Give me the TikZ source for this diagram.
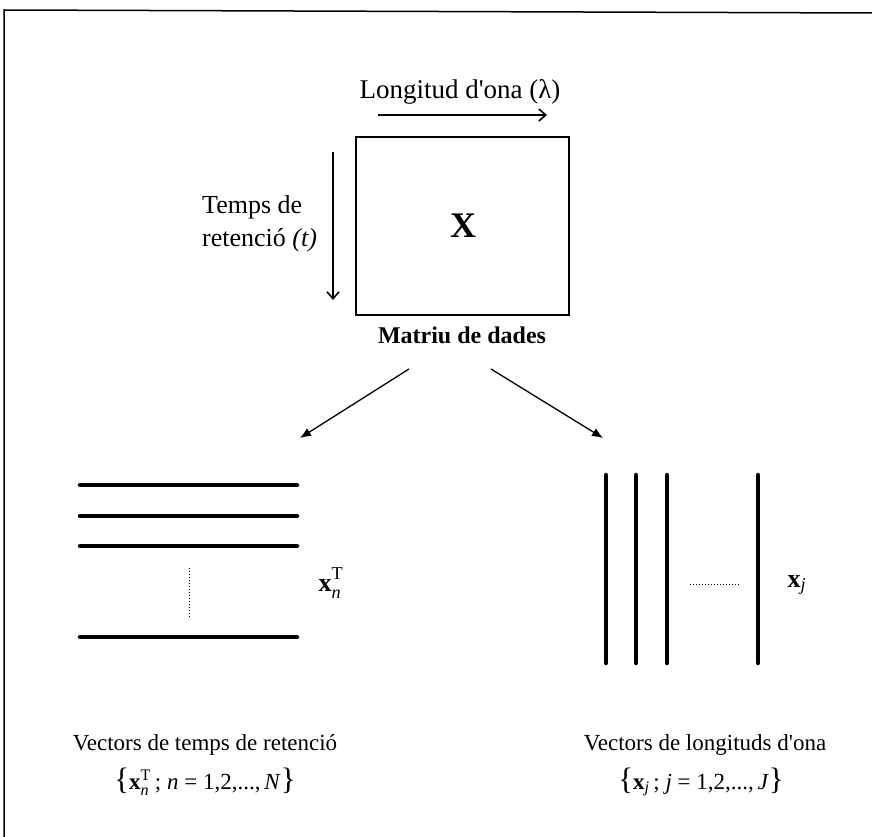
\documentclass[tikz,border=0pt]{standalone}
\usepackage{fontspec}
\setmainfont{Liberation Serif}[Ligatures=TeXOff]
\usetikzlibrary{arrows.meta}
\newcommand{\lbr}{{\fontsize{31}{31}\selectfont\{}}
\newcommand{\rbr}{{\fontsize{31}{31}\selectfont\}}}
\begin{document}
\begin{tikzpicture}[x=1pt,y=-1pt,
  lbl/.style={font=\fontsize{26}{33}\selectfont, inner sep=0pt},
  bot/.style={font=\fontsize{23}{28}\selectfont, inner sep=0pt},
  bar/.style={line width=4.5pt, line cap=round},
  frame/.style={line width=1.5pt},
  axarrow/.style={line width=1.6pt, -{Straight Barb[length=7pt,width=12pt]}},
  diag/.style={line width=1.3pt, -{Latex[length=11pt,width=9pt]}}]
\useasboundingbox (0,0) rectangle (872,837);
% frame
\coordinate (fbl) at (4,837);
\coordinate (ftl) at (4,10);
\coordinate (ftr) at (872,13);
\draw[frame] (fbl) -- (ftl) -- (ftr);
% top matrix
\node[lbl, font=\fontsize{27}{33}\selectfont] (lam) at (460,92) {Longitud d'ona (λ)};
\coordinate (la1) at (378,115);
\coordinate (la2) at (547,115);
\draw[axarrow] (la1) -- (la2);
\node[draw, line width=2pt, minimum width=213pt, minimum height=178pt, inner sep=0pt] (M) at (462.5,226) {};
\node[font=\fontsize{36}{40}\selectfont\bfseries, inner sep=0pt] (X) at (463,226) {X};
\coordinate (ta1) at (333,152);
\coordinate (ta2) at (333,300);
\draw[axarrow] (ta1) -- (ta2);
\node[lbl, align=left, anchor=west] (t) at (202,224) {Temps de\\retenció \textit{(t)}};
\node[font=\fontsize{24}{28}\selectfont\bfseries, inner sep=0pt] (md) at (462,335) {Matriu de dades};
% diagonal arrows
\coordinate (a1) at (409,369);
\coordinate (a2) at (300,438);
\coordinate (b1) at (491,369);
\coordinate (b2) at (603,438);
\draw[diag] (a1) -- (a2);
\draw[diag] (b1) -- (b2);
% horizontal bars
\foreach \yy/\nm in {485/h1,516/h2,546/h3,637/h4}{
  \coordinate (\nm l) at (80,\yy);
  \coordinate (\nm r) at (297,\yy);
  \draw[bar] (\nm l) -- (\nm r);
}
\coordinate (hd1) at (189,568);
\coordinate (hd2) at (189,617);
\draw[dotted, line width=1pt] (hd1) -- (hd2);
\node[font=\fontsize{26}{30}\selectfont, inner sep=0pt] (xn) at (331,583) {$\mathbf{x}_{\mathit{n}}^{\raisebox{3pt}{$\scriptstyle\mathrm{T}$}}$};
% vertical bars
\foreach \xx/\nm in {606/v1,636/v2,667/v3,758/v4}{
  \coordinate (\nm t) at (\xx,475);
  \coordinate (\nm b) at (\xx,663);
  \draw[bar] (\nm t) -- (\nm b);
}
\coordinate (vd1) at (690,584);
\coordinate (vd2) at (740,584);
\draw[dotted, line width=1pt] (vd1) -- (vd2);
\node[font=\fontsize{26}{30}\selectfont, inner sep=0pt] (xj) at (797,585) {$\mathbf{x}_{\mathit{j}}$};
% bottom captions
\node[bot] (c1) at (205,745) {Vectors de temps de retenció};
\node[bot] (f1) at (205,782) {\lbr\textbf{x}$^{\mathrm{T}}_{\mathit{n}}$\,; \textit{n} = 1,2,...,\,\textit{N}\rbr};
\node[bot] (c2) at (705,745) {Vectors de longituds d'ona};
\node[bot] (f2) at (701,782) {\lbr\textbf{x}$_{\mathit{j}}$\,; \textit{j} = 1,2,...,\,\textit{J}\rbr};
\end{tikzpicture}
\end{document}
